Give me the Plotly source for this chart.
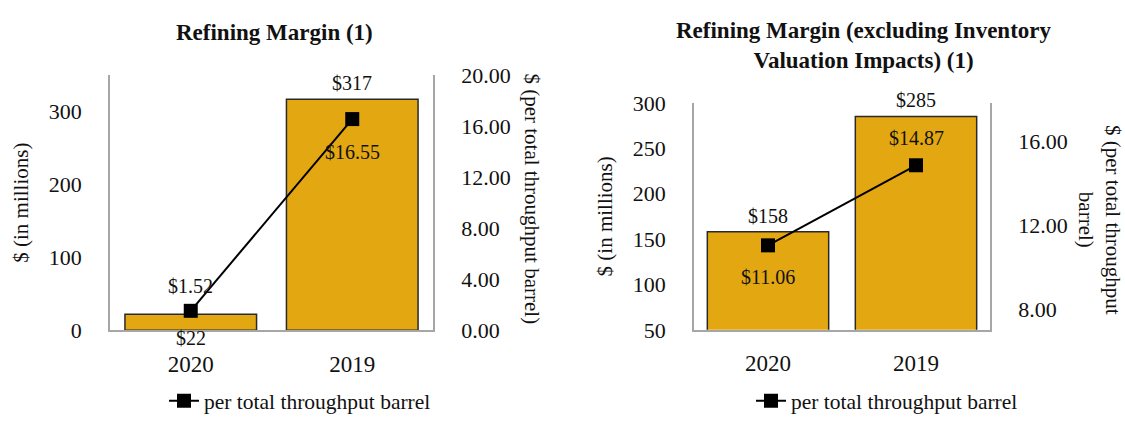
import plotly.graph_objects as go

# ---- data ----
years = ["2020", "2019"]
margin_musd = [22, 317]
margin_per_bbl = [1.52, 16.55]
margin_bar_labels = ["$22", "$317"]
margin_line_labels = ["$1.52", "$16.55"]

adj_margin_musd = [158, 285]
adj_margin_per_bbl = [11.06, 14.87]
adj_bar_labels = ["$158", "$285"]
adj_line_labels = ["$11.06", "$14.87"]

left_ticks_1 = [0, 100, 200, 300]
right_ticks_1 = [0, 4, 8, 12, 16, 20]
left_ticks_2 = [50, 100, 150, 200, 250, 300]
right_ticks_2 = [8, 12, 16]

series_name = "per total throughput barrel"

# ---- style ----
W, H = 1125, 427
FONT = "Liberation Serif, Times New Roman, serif"
BAR = "#E3A712"
EDGE = "#2a2a2a"
AXIS = "#a6a6a6"
TXT = "#111111"

def fx(x):
    return x / W

def fy(y):
    return (H - y) / H

fig = go.Figure()

# Left chart
fig.add_trace(go.Bar(x=years, y=margin_musd, marker=dict(color=BAR, line=dict(color=EDGE, width=1.5)),
                     xaxis="x", yaxis="y", showlegend=False, width=0.815))
fig.add_trace(go.Scatter(x=years, y=margin_per_bbl, mode="lines+markers", name=series_name,
                         line=dict(color="black", width=2), marker=dict(symbol="square", size=14, color="black"),
                         xaxis="x", yaxis="y2", legend="legend", cliponaxis=False))
# Right chart
fig.add_trace(go.Bar(x=years, y=adj_margin_musd, marker=dict(color=BAR, line=dict(color=EDGE, width=1.5)),
                     xaxis="x2", yaxis="y3", showlegend=False, width=0.82))
fig.add_trace(go.Scatter(x=years, y=adj_margin_per_bbl, mode="lines+markers", name=series_name,
                         line=dict(color="black", width=2), marker=dict(symbol="square", size=14, color="black"),
                         xaxis="x2", yaxis="y4", legend="legend2", cliponaxis=False))

tickfont = dict(family=FONT, size=22, color=TXT)
titlefont = dict(family=FONT, size=21, color=TXT)

common_y = dict(showgrid=False, zeroline=False, showline=True, linecolor=AXIS, linewidth=1.5,
                ticks="outside", ticklen=22, tickcolor="rgba(0,0,0,0)", tickfont=tickfont)
common_x = dict(type="category", categoryorder="array", categoryarray=years, range=[-0.5, 1.5],
                showgrid=False, zeroline=False, showline=True, linecolor=AXIS, linewidth=1.5,
                ticks="outside", ticklen=12, tickcolor="rgba(0,0,0,0)",
                tickfont=dict(family=FONT, size=23, color=TXT))

y_dom1 = [fy(338), fy(67)]
y_dom2 = [fy(337.6), fy(96.5)]

fig.update_layout(
    width=W, height=H, margin=dict(l=0, r=0, t=0, b=0),
    paper_bgcolor="white", plot_bgcolor="white",
    font=dict(family=FONT, color=TXT),
    xaxis=dict(domain=[fx(110), fx(433)], anchor="y", **common_x),
    yaxis=dict(domain=y_dom1, anchor="x", range=[0, 350], tickvals=left_ticks_1,
               title=dict(text="$ (in millions)", font=titlefont, standoff=14), **common_y),
    yaxis2=dict(overlaying="y", anchor="x", side="right", range=[0, 20], tickvals=right_ticks_1,
                tickformat=".2f", **common_y),
    xaxis2=dict(domain=[fx(694), fx(990)], anchor="y3", **common_x),
    yaxis3=dict(domain=y_dom2, anchor="x2", range=[50, 300], tickvals=left_ticks_2,
                title=dict(text="$ (in millions)", font=titlefont, standoff=14), **common_y),
    yaxis4=dict(overlaying="y3", anchor="x2", side="right", range=[7.04, 17.84], tickvals=right_ticks_2,
                tickformat=".2f", **common_y),
    legend=dict(x=fx(164), y=fy(413), xanchor="left", yanchor="middle", orientation="h",
                font=dict(family=FONT, size=21.5, color=TXT), bgcolor="rgba(0,0,0,0)"),
    legend2=dict(x=fx(751), y=fy(413), xanchor="left", yanchor="middle", orientation="h",
                 font=dict(family=FONT, size=21.5, color=TXT), bgcolor="rgba(0,0,0,0)"),
)

annos = []
lab_font = dict(family=FONT, size=20, color=TXT)
bar_shift_1 = [-24, 16]
for i, (yv, t, s) in enumerate(zip(margin_musd, margin_bar_labels, bar_shift_1)):
    annos.append(dict(x=i, y=yv, xref="x", yref="y", text=t, showarrow=False, yshift=s,
                      yanchor="middle", font=lab_font))
line_shift_1 = [25, -33]
for i, (yv, t, s) in enumerate(zip(margin_per_bbl, margin_line_labels, line_shift_1)):
    annos.append(dict(x=i, y=yv, xref="x", yref="y2", text=t, showarrow=False, yshift=s,
                      yanchor="middle", font=lab_font))
for i, (yv, t) in enumerate(zip(adj_margin_musd, adj_bar_labels)):
    annos.append(dict(x=i, y=yv, xref="x2", yref="y3", text=t, showarrow=False, yshift=16,
                      yanchor="middle", font=lab_font))
line_shift_2 = [-32, 27]
for i, (yv, t, s) in enumerate(zip(adj_margin_per_bbl, adj_line_labels, line_shift_2)):
    annos.append(dict(x=i, y=yv, xref="x2", yref="y4", text=t, showarrow=False, yshift=s,
                      yanchor="middle", font=lab_font))

bold = dict(family=FONT, size=23, color=TXT)
annos.append(dict(x=fx(274), y=fy(22), xref="paper", yref="paper", text="<b>Refining Margin (1)</b>",
                  showarrow=False, xanchor="center", yanchor="middle", font=bold))
annos.append(dict(x=fx(864), y=fy(36), xref="paper", yref="paper",
                  text="<b>Refining Margin (excluding Inventory<br>Valuation Impacts) (1)</b>",
                  showarrow=False, xanchor="center", yanchor="middle", font=bold))
annos.append(dict(x=fx(532), y=fy(198), xref="paper", yref="paper", text="$ (per total throughput barrel)",
                  showarrow=False, textangle=90, xanchor="center", yanchor="middle", font=titlefont))
annos.append(dict(x=fx(1100), y=fy(221), xref="paper", yref="paper", text="$ (per total throughput<br>barrel)",
                  showarrow=False, textangle=90, xanchor="center", yanchor="middle", font=titlefont))

fig.update_layout(annotations=annos)
fig.write_html("out.html")
